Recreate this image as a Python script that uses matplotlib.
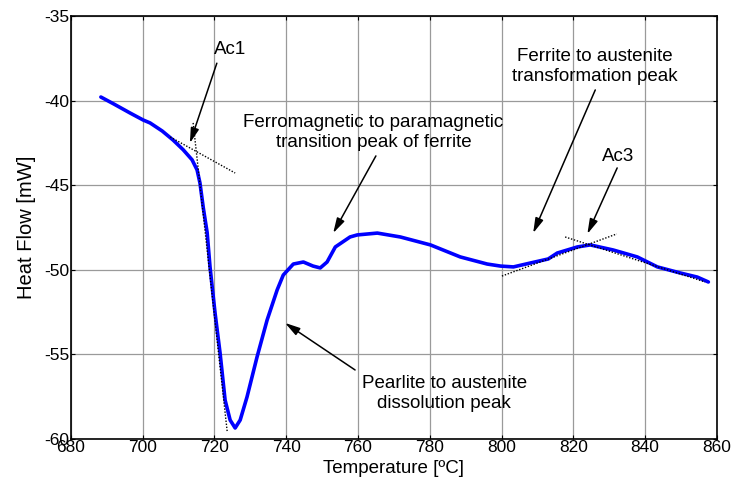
import matplotlib.pyplot as plt

plt.rcParams['font.family'] = ['Liberation Sans', 'DejaVu Sans']
plt.rcParams['axes.unicode_minus'] = False

# DSC heating curve
temp = [688.4, 692.0, 696.5, 700.2, 702.1, 705.5, 708.5, 711.3, 713.8, 715.2, 716.0, 716.9,
        718.0, 718.8, 720.2, 721.6, 723.0, 724.4, 725.8, 727.2, 729.1, 731.9,
        734.7, 737.5, 739.2, 742.0, 744.8, 747.5, 749.5, 751.4, 753.7, 757.8,
        759.8, 765.4, 771.8, 780.2, 788.5, 796.0, 799.7, 803.3, 808.0, 813.0,
        815.5, 821.1, 824.7, 831.1, 837.8, 843.4, 849.8, 854.5, 857.6]
heat = [-39.79, -40.20, -40.73, -41.15, -41.32, -41.80, -42.33, -42.90, -43.50, -44.10, -44.87, -46.30,
        -47.80, -49.83, -52.55, -54.92, -57.70, -58.88, -59.35, -58.88, -57.52, -55.15,
        -52.97, -51.19, -50.31, -49.66, -49.54, -49.78, -49.89, -49.54, -48.65, -48.06,
        -47.94, -47.83, -48.06, -48.53, -49.24, -49.66, -49.78, -49.83, -49.60, -49.36,
        -49.01, -48.65, -48.53, -48.83, -49.24, -49.83, -50.19, -50.43, -50.72]

# tangent construction lines (start, end)
tangents = [
    ([707.7, 725.8], [-42.15, -44.28]),
    ([714.1, 723.6], [-41.32, -59.59]),
    ([800.1, 832.1], [-50.37, -47.88]),
    ([817.7, 856.7], [-48.06, -50.72]),
]

# label text, text position, arrow tail, arrow head
notes = [
    ('Ac1', (724.4, -37.0), (720.7, -37.79), (713.2, -42.51)),
    ('Ferromagnetic to paramagnetic\ntransition peak of ferrite', (764.3, -41.9), (765.0, -43.27), (753.1, -47.83)),
    ('Ferrite to austenite\ntransformation peak', (826.1, -38.0), (826.1, -39.37), (808.8, -47.83)),
    ('Ac3', (832.5, -43.3), (832.2, -43.98), (823.9, -47.88)),
    ('Pearlite to austenite\ndissolution peak', (784.0, -57.3), (759.2, -55.92), (739.7, -53.14)),
]

fig = plt.figure(figsize=(7.35, 4.83), dpi=100)
ax = fig.add_axes([0.0962, 0.0911, 0.8793, 0.8758])

ax.plot(temp, heat, color='#0000ff', lw=2.6, solid_capstyle='round', zorder=3)
for tx, hy in tangents:
    ax.plot(tx, hy, color='k', lw=1.0, ls=(0, (1, 1.2)), zorder=4)

for label, pos, tail, head in notes:
    ax.text(pos[0], pos[1], label, ha='center', va='center', fontsize=13.5,
            linespacing=1.25)
    ax.annotate('', xy=head, xytext=tail,
                arrowprops=dict(arrowstyle='-|>,head_length=0.9,head_width=0.25',
                                color='k', lw=1.1, shrinkA=0, shrinkB=0))

ax.set_xlim(680, 860)
ax.set_ylim(-60, -35)
ax.set_xticks(range(680, 861, 20))
ax.set_yticks(range(-60, -34, 5))
ax.grid(True, color='#9a9a9a', lw=0.9)
ax.set_axisbelow(True)
ax.tick_params(direction='in', length=3, labelsize=12.5, top=True, right=True, pad=1)
for s in ax.spines.values():
    s.set_linewidth(1.2)

ax.set_xlabel('Temperature [ºC]', fontsize=13.5, labelpad=3)
ax.set_ylabel('Heat Flow [mW]', fontsize=14.5, labelpad=6)

fig.savefig('out.png', dpi=100)
